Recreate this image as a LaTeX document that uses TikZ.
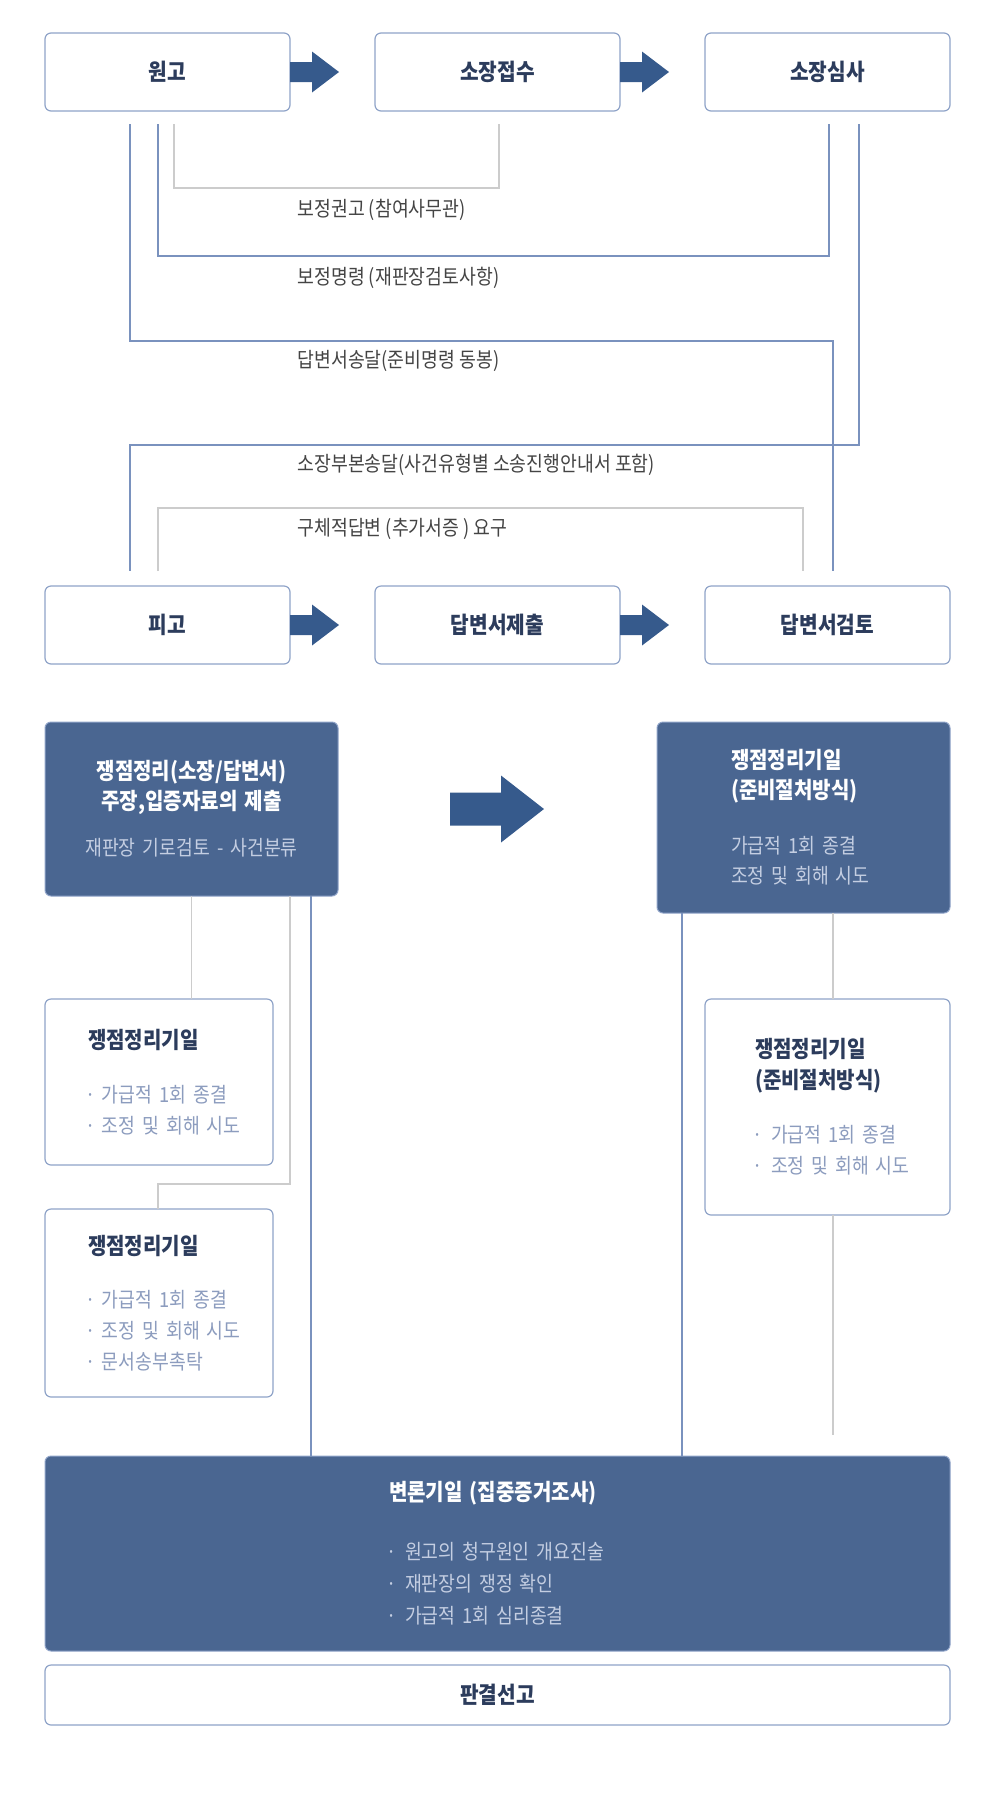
\documentclass[tikz,border=0pt]{standalone}
\usepackage{fontspec}
\setmainfont{Noto Sans CJK KR}[FakeStretch=0.88]
\usetikzlibrary{positioning}

\definecolor{darkfill}{RGB}{74,102,145}
\definecolor{arrowfill}{RGB}{54,90,140}
\definecolor{boxline}{RGB}{143,163,200}
\definecolor{bluelinec}{RGB}{122,146,190}
\definecolor{graylinec}{RGB}{204,204,204}
\definecolor{titlenavy}{RGB}{44,60,92}
\definecolor{labelgray}{RGB}{68,68,68}
\definecolor{itemgray}{RGB}{140,156,190}
\definecolor{darksub}{RGB}{196,206,226}

\newcommand\itm[2][14pt]{\mbox{\makebox[#1][l]{\hspace{-3pt}·}#2}}

\begin{document}
\begin{tikzpicture}[x=1pt,y=-1pt,
                box/.style={rectangle, rounded corners=6pt, draw=boxline, line width=1.2pt, fill=white, outer sep=0pt,
                    minimum width=245pt, minimum height=78pt, text=titlenavy,
                    font=\fontsize{23}{26}\selectfont\bfseries},
                darkbox/.style={rectangle, rounded corners=6pt, draw=boxline, line width=1pt, fill=darkfill, outer sep=0pt,
                    text=white, inner xsep=0pt, font=\fontsize{20.8}{30}\selectfont},
                notebox/.style={rectangle, rounded corners=6pt, draw=boxline, line width=1.2pt, fill=white, outer sep=0pt,
                    text=itemgray, inner xsep=0pt, align=left, font=\fontsize{20.8}{31}\selectfont},
                lbl/.style={anchor=west, text=labelgray, font=\fontsize{20.8}{24}\selectfont},
                blueline/.style={draw=bluelinec, line width=1.5pt},
                grayline/.style={draw=graylinec, line width=1.5pt},
                blockarrow/.style={fill=arrowfill}
            ]
            \useasboundingbox (0,0) rectangle (996,1800);

            % two rows of steps
            \node[box] (won) at (167.5,72) {원고};
            \node[box, right=85pt of won] (sojang) {소장접수};
            \node[box, right=85pt of sojang] (simsa) {소장심사};
            \node[box, below=475pt of won] (pigo) {피고};
            \node[box, right=85pt of pigo] (dapje) {답변서제출};
            \node[box, right=85pt of dapje] (dapgeom) {답변서검토};
            \foreach \a in {won,sojang,pigo,dapje}
                \fill[blockarrow] (\a.east) ++(0,-10) -- ++(22,0) -- ++(0,-10.5) -- ++(27,20.5)
                    -- ++(-27,20.5) -- ++(0,-10.5) -- ++(-22,0) -- cycle;

            % exchanges between the rows
            \coordinate (aS) at ([xshift=129pt,yshift=-13pt]won.south west);
            \coordinate (aE) at ([xshift=124pt,yshift=-13pt]sojang.south west);
            \coordinate (bS) at ([xshift=113pt,yshift=-13pt]won.south west);
            \coordinate (bE) at ([xshift=124pt,yshift=-13pt]simsa.south west);
            \coordinate (cS) at ([xshift=85pt,yshift=-13pt]won.south west);
            \coordinate (cE) at ([xshift=128pt,yshift=15pt]dapgeom.north west);
            \coordinate (dS) at ([xshift=154pt,yshift=-13pt]simsa.south west);
            \coordinate (dE) at ([xshift=85pt,yshift=15pt]pigo.north west);
            \coordinate (eS) at ([xshift=113pt,yshift=15pt]pigo.north west);
            \coordinate (eE) at ([xshift=98pt,yshift=15pt]dapgeom.north west);
            \draw[grayline] (aS) -- ++(0,64) -| (aE);
            \draw[blueline] (bS) -- ++(0,132) -| (bE);
            \draw[blueline] (cS) -- ++(0,217) -| (cE);
            \draw[blueline] (dS) -- ++(0,321) -| (dE);
            \draw[grayline] (eS) -- ++(0,-63) -| (eE);
            \node[lbl] (la) at (294,210) {보정권고 (참여사무관)};
            \node[lbl] (lb) at (294,278) {보정명령 (재판장검토사항)};
            \node[lbl] (lc) at (294,361) {답변서송달(준비명령 동봉)};
            \node[lbl] (ld) at (294,465) {소장부본송달(사건유형별 소송진행안내서 포함)};
            \node[lbl] (le) at (294,529) {구체적답변 (추가서증 ) 요구};

            % issue arrangement
            \node[darkbox, minimum width=293pt, minimum height=174pt, text width=293pt, align=center] (issue) at (191.5,809)
                {{\fontsize{22.8}{33}\selectfont\bfseries 쟁점정리(소장/답변서)\\ 주장,입증자료의 제출}\\[16pt]
                 {\color{darksub}재판장 기로검토 - 사건분류}};
            \node[darkbox, minimum width=293pt, minimum height=191pt, text width=145pt, align=left] (prep) at (803.5,817.5)
                {{\fontsize{22.8}{31}\selectfont\bfseries 쟁점정리기일\\ \mbox{(준비절처방식)}}\\[25pt]
                 {\color{darksub}\mbox{가급적 1회 종결}\\ \mbox{조정 및 회해 시도}}};
            \fill[blockarrow] ([xshift=112pt]issue.east) ++(0,-16.5) -- ++(51,0) -- ++(0,-17) -- ++(43,33.5)
                -- ++(-43,33.5) -- ++(0,-17) -- ++(-51,0) -- cycle;

            \node[notebox, minimum width=228pt, minimum height=166pt, text width=142pt] (date1) at (159,1082)
                {{\fontsize{22.8}{31}\selectfont\bfseries\color{titlenavy}\mbox{쟁점정리기일}}\\[23pt]
                 \itm{가급적 1회 종결}\\ \itm{조정 및 회해 시도}};
            \node[notebox, minimum width=228pt, minimum height=188pt, text width=142pt] (date2) at (159,1303)
                {{\fontsize{22.8}{31}\selectfont\bfseries\color{titlenavy}\mbox{쟁점정리기일}}\\[22pt]
                 \itm{가급적 1회 종결}\\ \itm{조정 및 회해 시도}\\ \itm{문서송부촉탁}};
            \node[notebox, minimum width=245pt, minimum height=216pt, text width=145pt] (prepdate) at (827.5,1107)
                {{\fontsize{22.8}{31}\selectfont\bfseries\color{titlenavy}\mbox{쟁점정리기일}\\ \mbox{(준비절처방식)}}\\[23pt]
                 \itm[16pt]{가급적 1회 종결}\\ \itm[16pt]{조정 및 회해 시도}};

            % hearing and verdict
            \node[darkbox, minimum width=905pt, minimum height=195pt, text width=217pt, align=left,
                  font=\fontsize{20.8}{32}\selectfont] (hearing) at (497.5,1553.5)
                {{\fontsize{22.8}{32}\selectfont\bfseries\mbox{변론기일 (집중증거조사)}}\\[27pt]
                 {\color{darksub}\itm[16pt]{원고의 청구원인 개요진술}\\ \itm[16pt]{재판장의 쟁정 확인}\\ \itm[16pt]{가급적 1회 심리종결}}};
            \node[box, minimum width=905pt, minimum height=60pt] (verdict) at (497.5,1695) {판결선고};

            \coordinate (iG) at ([xshift=245pt]issue.south west);
            \coordinate (iB) at ([xshift=266pt]issue.south west);
            \coordinate (rB) at ([xshift=25pt]prep.south west);
            \coordinate (rG) at ([xshift=176pt]prep.south west);
            \draw[grayline] (issue.south) -- (issue.south |- date1.north);
            \draw[grayline] (iG) -- ++(0,288) -| ([xshift=113pt]date2.north west);
            \draw[blueline] (iB) -- (iB |- hearing.north);
            \draw[blueline] (rB) -- (rB |- hearing.north);
            \draw[grayline] (rG) -- (rG |- prepdate.north);
            \draw[grayline] (rG |- prepdate.south) -- ++(0,220);
        \end{tikzpicture}
\end{document}
